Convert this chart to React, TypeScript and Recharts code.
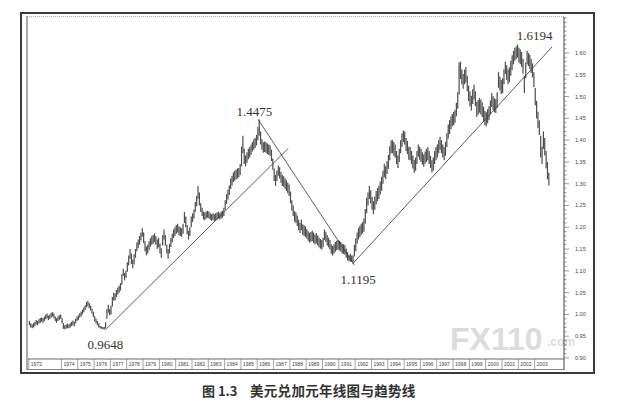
import React from 'react';
import { ComposedChart, Bar, XAxis, YAxis, ReferenceLine, ReferenceDot } from 'recharts';

const START_YEAR = 1972;

// monthly highs, Jan 1972 .. Nov 2003
const monthlyHigh: number[] = [
  0.985, 0.980, 0.977, 0.980, 0.983, 0.987, 0.985, 0.989, 0.992, 0.993, 0.991, 0.995, // 1972
  0.999, 1.002, 0.997, 1.000, 1.004, 1.005, 1.002, 0.995, 0.991, 0.995, 0.998, 1.000, // 1973
  0.991, 0.980, 0.975, 0.977, 0.979, 0.977, 0.980, 0.983, 0.986, 0.983, 0.990, 0.995, // 1974
  0.998, 1.003, 1.006, 1.011, 1.016, 1.021, 1.028, 1.031, 1.026, 1.020, 1.013, 1.006, // 1975
  0.996, 0.990, 0.985, 0.980, 0.974, 0.972, 0.971, 0.971, 0.982, 1.012, 1.022, 1.012, // 1976
  1.020, 1.040, 1.050, 1.048, 1.056, 1.062, 1.066, 1.072, 1.092, 1.105, 1.095, 1.100, // 1977
  1.120, 1.135, 1.150, 1.140, 1.126, 1.138, 1.150, 1.165, 1.172, 1.180, 1.188, 1.198, // 1978
  1.188, 1.168, 1.156, 1.160, 1.168, 1.175, 1.180, 1.182, 1.186, 1.180, 1.172, 1.176, // 1979
  1.162, 1.152, 1.182, 1.195, 1.182, 1.160, 1.150, 1.162, 1.175, 1.185, 1.195, 1.200, // 1980
  1.205, 1.208, 1.202, 1.200, 1.198, 1.208, 1.235, 1.225, 1.205, 1.192, 1.200, 1.225, // 1981
  1.232, 1.240, 1.258, 1.272, 1.295, 1.280, 1.255, 1.245, 1.236, 1.234, 1.236, 1.238, // 1982
  1.236, 1.232, 1.230, 1.232, 1.230, 1.232, 1.234, 1.236, 1.233, 1.236, 1.238, 1.245, // 1983
  1.262, 1.276, 1.286, 1.296, 1.312, 1.318, 1.326, 1.330, 1.332, 1.335, 1.336, 1.345, // 1984
  1.385, 1.410, 1.380, 1.365, 1.372, 1.380, 1.384, 1.390, 1.396, 1.402, 1.405, 1.412, // 1985
  1.430, 1.4475, 1.420, 1.402, 1.395, 1.397, 1.395, 1.392, 1.390, 1.388, 1.378, 1.358, // 1986
  1.335, 1.320, 1.330, 1.342, 1.338, 1.327, 1.320, 1.317, 1.312, 1.308, 1.302, 1.298, // 1987
  1.282, 1.262, 1.250, 1.237, 1.234, 1.227, 1.217, 1.210, 1.217, 1.207, 1.204, 1.202, // 1988
  1.196, 1.191, 1.187, 1.189, 1.192, 1.188, 1.183, 1.187, 1.181, 1.176, 1.173, 1.171, // 1989
  1.176, 1.195, 1.190, 1.182, 1.176, 1.171, 1.161, 1.157, 1.161, 1.166, 1.169, 1.171, // 1990
  1.169, 1.166, 1.162, 1.161, 1.159, 1.151, 1.143, 1.136, 1.139, 1.135, 1.135, 1.160, // 1991
  1.175, 1.188, 1.198, 1.203, 1.208, 1.212, 1.220, 1.242, 1.268, 1.280, 1.295, 1.285, // 1992
  1.270, 1.260, 1.270, 1.283, 1.290, 1.295, 1.305, 1.316, 1.330, 1.345, 1.340, 1.352, // 1993
  1.366, 1.386, 1.400, 1.400, 1.396, 1.390, 1.375, 1.365, 1.380, 1.400, 1.415, 1.422, // 1994
  1.420, 1.405, 1.398, 1.385, 1.384, 1.375, 1.365, 1.355, 1.360, 1.375, 1.390, 1.385, // 1995
  1.380, 1.372, 1.367, 1.374, 1.380, 1.384, 1.375, 1.364, 1.354, 1.360, 1.375, 1.384, // 1996
  1.390, 1.400, 1.408, 1.400, 1.390, 1.384, 1.396, 1.416, 1.436, 1.446, 1.455, 1.460, // 1997
  1.465, 1.470, 1.486, 1.510, 1.578, 1.580, 1.562, 1.552, 1.562, 1.568, 1.548, 1.525, // 1998
  1.512, 1.502, 1.517, 1.527, 1.512, 1.488, 1.492, 1.497, 1.493, 1.487, 1.477, 1.467, // 1999
  1.464, 1.471, 1.478, 1.491, 1.508, 1.501, 1.496, 1.494, 1.510, 1.556, 1.546, 1.538, // 2000
  1.542, 1.562, 1.580, 1.572, 1.562, 1.567, 1.582, 1.595, 1.605, 1.612, 1.615, 1.6194, // 2001
  1.612, 1.608, 1.602, 1.587, 1.548, 1.578, 1.605, 1.600, 1.596, 1.586, 1.576, 1.556, // 2002
  1.520, 1.490, 1.465, 1.445, 1.410, 1.385, 1.420, 1.405, 1.375, 1.350, 1.325, // 2003
];

// monthly lows, same months
const monthlyLow: number[] = [
  0.975, 0.970, 0.968, 0.970, 0.973, 0.977, 0.975, 0.979, 0.981, 0.983, 0.981, 0.985, // 1972
  0.989, 0.991, 0.987, 0.990, 0.993, 0.995, 0.991, 0.985, 0.981, 0.985, 0.988, 0.990, // 1973
  0.979, 0.967, 0.966, 0.967, 0.969, 0.968, 0.970, 0.973, 0.975, 0.973, 0.980, 0.985, // 1974
  0.987, 0.993, 0.995, 1.000, 1.005, 1.010, 1.016, 1.019, 1.014, 1.009, 1.002, 0.994, // 1975
  0.984, 0.980, 0.975, 0.970, 0.968, 0.967, 0.966, 0.9648, 0.968, 0.990, 1.004, 0.998, // 1976
  1.000, 1.018, 1.032, 1.032, 1.040, 1.046, 1.050, 1.055, 1.068, 1.088, 1.078, 1.084, // 1977
  1.098, 1.112, 1.128, 1.116, 1.106, 1.115, 1.130, 1.145, 1.152, 1.160, 1.170, 1.178, // 1978
  1.164, 1.145, 1.136, 1.140, 1.148, 1.155, 1.160, 1.162, 1.166, 1.160, 1.150, 1.154, // 1979
  1.140, 1.130, 1.158, 1.172, 1.158, 1.140, 1.128, 1.140, 1.155, 1.165, 1.175, 1.180, // 1980
  1.185, 1.188, 1.182, 1.180, 1.178, 1.185, 1.210, 1.200, 1.184, 1.172, 1.180, 1.200, // 1981
  1.212, 1.220, 1.235, 1.248, 1.265, 1.250, 1.235, 1.226, 1.218, 1.216, 1.220, 1.222, // 1982
  1.220, 1.217, 1.215, 1.217, 1.214, 1.216, 1.218, 1.220, 1.218, 1.220, 1.222, 1.226, // 1983
  1.240, 1.254, 1.264, 1.274, 1.288, 1.296, 1.304, 1.307, 1.310, 1.312, 1.315, 1.320, // 1984
  1.340, 1.370, 1.345, 1.340, 1.348, 1.356, 1.360, 1.366, 1.374, 1.378, 1.382, 1.388, // 1985
  1.400, 1.410, 1.390, 1.378, 1.371, 1.373, 1.371, 1.368, 1.366, 1.364, 1.352, 1.332, // 1986
  1.306, 1.295, 1.306, 1.318, 1.312, 1.302, 1.295, 1.293, 1.288, 1.283, 1.278, 1.272, // 1987
  1.255, 1.238, 1.226, 1.213, 1.210, 1.203, 1.193, 1.187, 1.193, 1.183, 1.180, 1.178, // 1988
  1.174, 1.169, 1.165, 1.167, 1.168, 1.164, 1.161, 1.163, 1.159, 1.154, 1.151, 1.149, // 1989
  1.154, 1.171, 1.166, 1.158, 1.154, 1.149, 1.139, 1.135, 1.139, 1.144, 1.147, 1.149, // 1990
  1.147, 1.144, 1.140, 1.139, 1.137, 1.130, 1.124, 1.122, 1.121, 1.121, 1.1195, 1.133, // 1991
  1.145, 1.162, 1.172, 1.177, 1.182, 1.186, 1.190, 1.208, 1.232, 1.250, 1.265, 1.255, // 1992
  1.240, 1.230, 1.240, 1.253, 1.260, 1.265, 1.275, 1.284, 1.300, 1.315, 1.310, 1.322, // 1993
  1.334, 1.354, 1.370, 1.370, 1.364, 1.360, 1.345, 1.336, 1.350, 1.370, 1.385, 1.396, // 1994
  1.390, 1.375, 1.368, 1.355, 1.354, 1.345, 1.335, 1.325, 1.330, 1.345, 1.362, 1.355, // 1995
  1.350, 1.344, 1.339, 1.346, 1.350, 1.354, 1.345, 1.336, 1.326, 1.330, 1.345, 1.354, // 1996
  1.360, 1.370, 1.378, 1.370, 1.360, 1.354, 1.364, 1.384, 1.404, 1.414, 1.425, 1.432, // 1997
  1.435, 1.440, 1.455, 1.472, 1.505, 1.540, 1.528, 1.518, 1.528, 1.532, 1.512, 1.490, // 1998
  1.478, 1.468, 1.483, 1.493, 1.478, 1.453, 1.458, 1.463, 1.459, 1.453, 1.443, 1.434, // 1999
  1.432, 1.439, 1.446, 1.459, 1.476, 1.469, 1.464, 1.462, 1.474, 1.520, 1.514, 1.506, // 2000
  1.508, 1.528, 1.552, 1.538, 1.528, 1.533, 1.548, 1.561, 1.574, 1.582, 1.586, 1.590, // 2001
  1.578, 1.574, 1.568, 1.553, 1.508, 1.542, 1.574, 1.570, 1.564, 1.554, 1.544, 1.522, // 2002
  1.480, 1.450, 1.428, 1.412, 1.360, 1.345, 1.380, 1.365, 1.335, 1.310, 1.296, // 2003
];

const yearTicks = [
  1972, 1974, 1975, 1976, 1977, 1978, 1979, 1980, 1981, 1982, 1983, 1984, 1985, 1986, 1987,
  1988, 1989, 1990, 1991, 1992, 1993, 1994, 1995, 1996, 1997, 1998, 1999, 2000, 2001, 2002, 2003,
];

const priceLabels = [0.9, 0.95, 1.0, 1.05, 1.1, 1.15, 1.2, 1.25, 1.3, 1.35, 1.4, 1.45, 1.5, 1.55, 1.6];

// turning points (decimal year, price) and their captions
const pivotTimes = [1976.625, 1986.125, 1991.875, 2001.958];
const pivotValues = [0.9648, 1.4475, 1.1195, 1.6194];
const pivotLabels = ['0.9648', '1.4475', '1.1195', '1.6194'];

// trend lines drawn on the chart: [startYear, startPrice, endYear, endPrice]
const trendLines = [
  [1976.7, 0.9648, 1987.9, 1.381],
  [1986.05, 1.4475, 1991.95, 1.113],
  [1991.85, 1.1165, 2004.07, 1.614],
];

const data = monthlyHigh.map((high, i) => ({
  t: START_YEAR + (i + 0.5) / 12,
  range: [monthlyLow[i], high],
}));

const minorTicks: number[] = [];
for (let k = 90; k <= 168; k++) minorTicks.push(k / 100);

const isMajor = (v: number) => priceLabels.some((p) => Math.abs(p - v) < 1e-6);

const PriceTick = (props: any) => {
  const { x, y, payload } = props;
  const major = isMajor(payload.value);
  return (
    <g>
      <line x1={x} x2={x + (major ? 5 : 2.5)} y1={y} y2={y} stroke="#555" strokeWidth={0.6} />
      {major && (
        <text x={x + 11} y={y + 2} fontSize={5.5} fill="#444" fontFamily="Liberation Sans, Arial">
          {payload.value.toFixed(2)}
        </text>
      )}
    </g>
  );
};

const YearTick = (props: any) => {
  const { x, y, payload } = props;
  return (
    <g>
      <line x1={x} x2={x} y1={y} y2={y + 10} stroke="#666" strokeWidth={0.6} />
      <text x={x + 2} y={y + 7} fontSize={5} fill="#444" fontFamily="Liberation Sans, Arial">
        {payload.value}
      </text>
    </g>
  );
};

// label offsets from each pivot, in pixels
const labelOffsets = [
  [1, 19],
  [-5, -3],
  [5, 22],
  [17, -5],
];

export default function App() {
  return (
    <div style={{ position: 'absolute', left: 0, top: 0, width: 625, height: 408, background: '#fff' }}>
      <svg width={625} height={408} style={{ position: 'absolute', left: 0, top: 0 }}>
        <rect x={21} y={13} width={573} height={360} fill="none" stroke="#3a3a3a" strokeWidth={2} />
        <line x1={27} x2={27} y1={16} y2={370} stroke="#555" strokeWidth={1} />
        <line x1={27} x2={564} y1={16.5} y2={16.5} stroke="#999" strokeWidth={0.8} strokeDasharray="1 1" />
        <line x1={27} x2={564} y1={369.5} y2={369.5} stroke="#666" strokeWidth={0.8} />
        <line x1={564} x2={564} y1={359} y2={370} stroke="#444" strokeWidth={1} />
        {/* faint watermark */}
        <text x={450} y={350} fontSize={32} fontWeight="bold" fill="#dcdcdc" fontFamily="Liberation Sans, Arial">
          FX110
        </text>
        <text x={547} y={346} fontSize={12} fontWeight="bold" fill="#dcdcdc" fontFamily="Liberation Sans, Arial">
          .com
        </text>
      </svg>
      <div style={{ position: 'absolute', left: 0, top: 0 }}>
        <ComposedChart width={625} height={408} data={data} margin={{ top: 17, right: 31, bottom: 39, left: 28 }}>
          <XAxis
            dataKey="t"
            type="number"
            domain={[1971.95, 2004.8]}
            ticks={yearTicks}
            interval={0}
            height={10}
            tickSize={0}
            tickMargin={0}
            tick={<YearTick />}
            axisLine={{ stroke: '#444', strokeWidth: 0.8 }}
            allowDataOverflow
          />
          <YAxis
            orientation="right"
            type="number"
            domain={[0.8977, 1.6826]}
            ticks={minorTicks}
            interval={0}
            width={30}
            tickSize={0}
            tickMargin={0}
            tick={<PriceTick />}
            axisLine={{ stroke: '#444', strokeWidth: 1 }}
            allowDataOverflow
          />
          <Bar dataKey="range" barSize={1.4} fill="#4f4f4f" isAnimationActive={false} />
          {trendLines.map((seg, i) => (
            <ReferenceLine
              key={i}
              segment={[
                { x: seg[0], y: seg[1] },
                { x: seg[2], y: seg[3] },
              ]}
              stroke="#333"
              strokeWidth={0.8}
              ifOverflow="visible"
            />
          ))}
          {pivotTimes.map((t, i) => (
            <ReferenceDot
              key={pivotLabels[i]}
              x={t}
              y={pivotValues[i]}
              r={1}
              ifOverflow="visible"
              shape={(p: any) => (
                <text
                  x={p.cx + labelOffsets[i][0]}
                  y={p.cy + labelOffsets[i][1]}
                  textAnchor="middle"
                  fontSize={13}
                  fill="#333"
                  fontFamily="Liberation Serif, Times New Roman, serif"
                >
                  {pivotLabels[i]}
                </text>
              )}
            />
          ))}
        </ComposedChart>
      </div>
      <svg width={625} height={408} style={{ position: 'absolute', left: 0, top: 0, pointerEvents: 'none' }}>
        <text x={202} y={396} fontSize={13} fontWeight="bold" fill="#333" fontFamily="'Noto Sans CJK SC', sans-serif">
          图 1.3
        </text>
        <text x={250} y={396} fontSize={13.5} letterSpacing={0.3} fontWeight="bold" fill="#333" fontFamily="'Noto Sans CJK SC', sans-serif">
          美元兑加元年线图与趋势线
        </text>
      </svg>
    </div>
  );
}
